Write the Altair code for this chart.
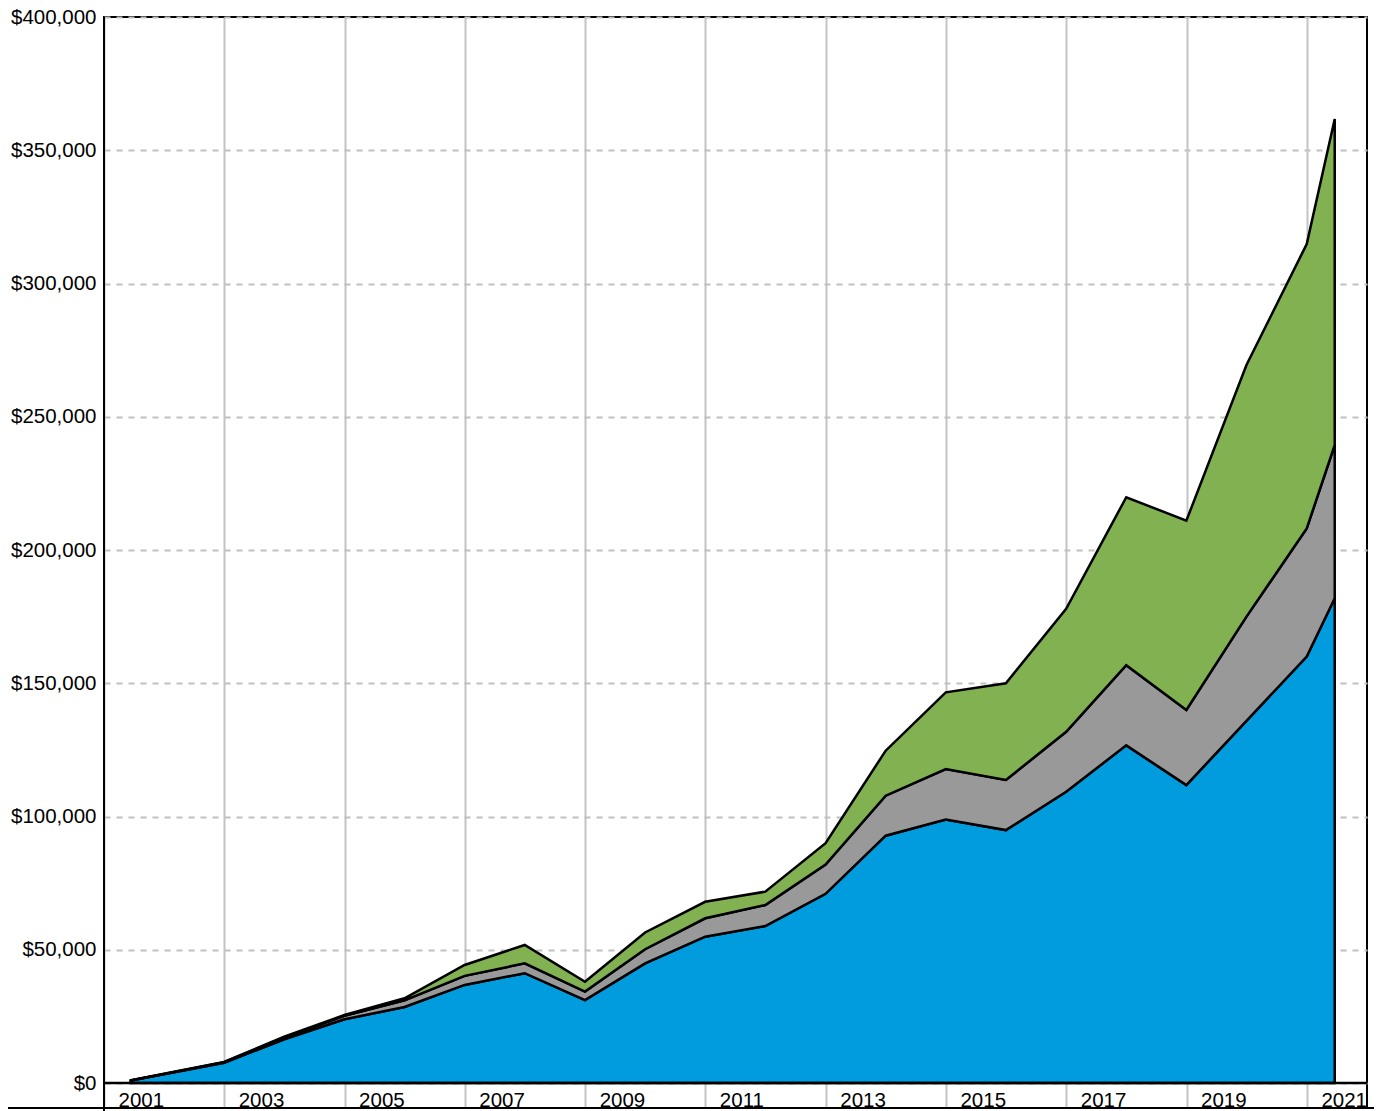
import altair as alt
import pandas as pd

FONT = "Liberation Sans, Arial, sans-serif"

dates = [
    "2001-06-13", "2002-12-31", "2003-12-31", "2004-12-31", "2005-12-31",
    "2006-12-31", "2007-12-31", "2008-12-31", "2009-12-31", "2010-12-31",
    "2011-12-31", "2012-12-31", "2013-12-31", "2014-12-31", "2015-12-31",
    "2016-12-31", "2017-12-31", "2018-12-31", "2019-12-31", "2020-12-31",
    "2021-06-19",
]
blue_values = [
    900, 7600, 16400, 23900, 28500,
    36800, 41200, 31100, 44900, 54900,
    58900, 71000, 92800, 98900, 94900,
    109300, 126700, 111800, 135900, 160000,
    181900,
]
gray_values = [
    50, 200, 700, 1300, 2500,
    3400, 3700, 3200, 5300, 6900,
    7900, 11000, 15000, 18900, 18800,
    22500, 30100, 28200, 39100, 48100,
    57500,
]
green_values = [
    50, 100, 300, 300, 800,
    4100, 6900, 3700, 6300, 6200,
    5000, 8000, 16900, 28800, 36300,
    46100, 63000, 71000, 94400, 106700,
    122300,
]
series_names = ["Series 1", "Series 2", "Series 3"]
series_colors = ["#009CDE", "#999999", "#82B152"]
year_ticks = list(range(2001, 2022, 2))
y_ticks = list(range(0, 400001, 50000))

rows = []
for k, (name, vals) in enumerate(zip(series_names, [blue_values, gray_values, green_values])):
    for d, v in zip(dates, vals):
        rows.append({"date": d, "value": v, "series": name, "order": k})
df = pd.DataFrame(rows)

W, H = 1263, 1091
Y_MAX = 400000
Y_MIN = -25 * Y_MAX / 1066

x_enc = alt.X(
    "date:T",
    scale=alt.Scale(
        type="utc",
        domain=[
            alt.DateTime(year=2001, month=1, date=1, utc=True),
            alt.DateTime(year=2022, month=1, date=1, utc=True),
        ],
    ),
    axis=alt.Axis(
        values=[alt.DateTime(year=y, month=1, date=1, utc=True) for y in year_ticks],
        format="%Y",
        title=None,
        labelAlign="left",
        labelOffset=14,
        labelBaseline="alphabetic",
        labelPadding=-2,
        ticks=False,
        tickSize=0,
        domain=False,
        grid=True,
        gridColor="#c4c4c4",
        gridWidth=2,
        labelFlush=False,
        labelOverlap=False,
        labelBound=False,
        labelFontSize=20.5,
        labelColor="black",
        labelFont=FONT,
    ),
)

y_enc = alt.Y(
    "value:Q",
    stack="zero",
    scale=alt.Scale(domain=[Y_MIN, Y_MAX], nice=False, zero=False),
    axis=alt.Axis(
        values=y_ticks,
        format="$,.0f",
        title=None,
        ticks=False,
        tickSize=0,
        domain=False,
        grid=True,
        gridColor="#c0c0c0",
        gridWidth=2,
        gridDash=[6, 6],
        labelPadding=8,
        labelFontSize=20.5,
        labelColor="black",
        labelFont=FONT,
    ),
)

areas = alt.Chart(df).mark_area(
    stroke="black", strokeWidth=2.5, strokeJoin="miter", opacity=1
).encode(
    x=x_enc,
    y=y_enc,
    color=alt.Color("series:N", scale=alt.Scale(domain=series_names, range=series_colors), legend=None),
    order=alt.Order("order:Q", sort="ascending"),
)

one = pd.DataFrame({"a": [0]})

zero_rule = alt.Chart(one).mark_rule(color="black", strokeWidth=2.5).encode(
    y=alt.datum(0)
)

bottom_line = alt.Chart(one).mark_rule(color="black", strokeWidth=2).encode(
    x=alt.value(-96), x2=alt.value(W + 7), y=alt.value(H)
)

left_ext = alt.Chart(one).mark_rule(color="black", strokeWidth=2).encode(
    x=alt.value(0), y=alt.value(0), y2=alt.value(H + 3)
)

chart = alt.layer(areas, zero_rule, bottom_line, left_ext).properties(
    width=W,
    height=H,
    autosize=alt.AutoSizeParams(type="none"),
    padding={"left": 96, "top": 9, "right": 7, "bottom": 3},
    background="white",
).configure_view(stroke="black", strokeWidth=2)

chart.save("out.html", embed_options={"renderer": "svg", "actions": False})
